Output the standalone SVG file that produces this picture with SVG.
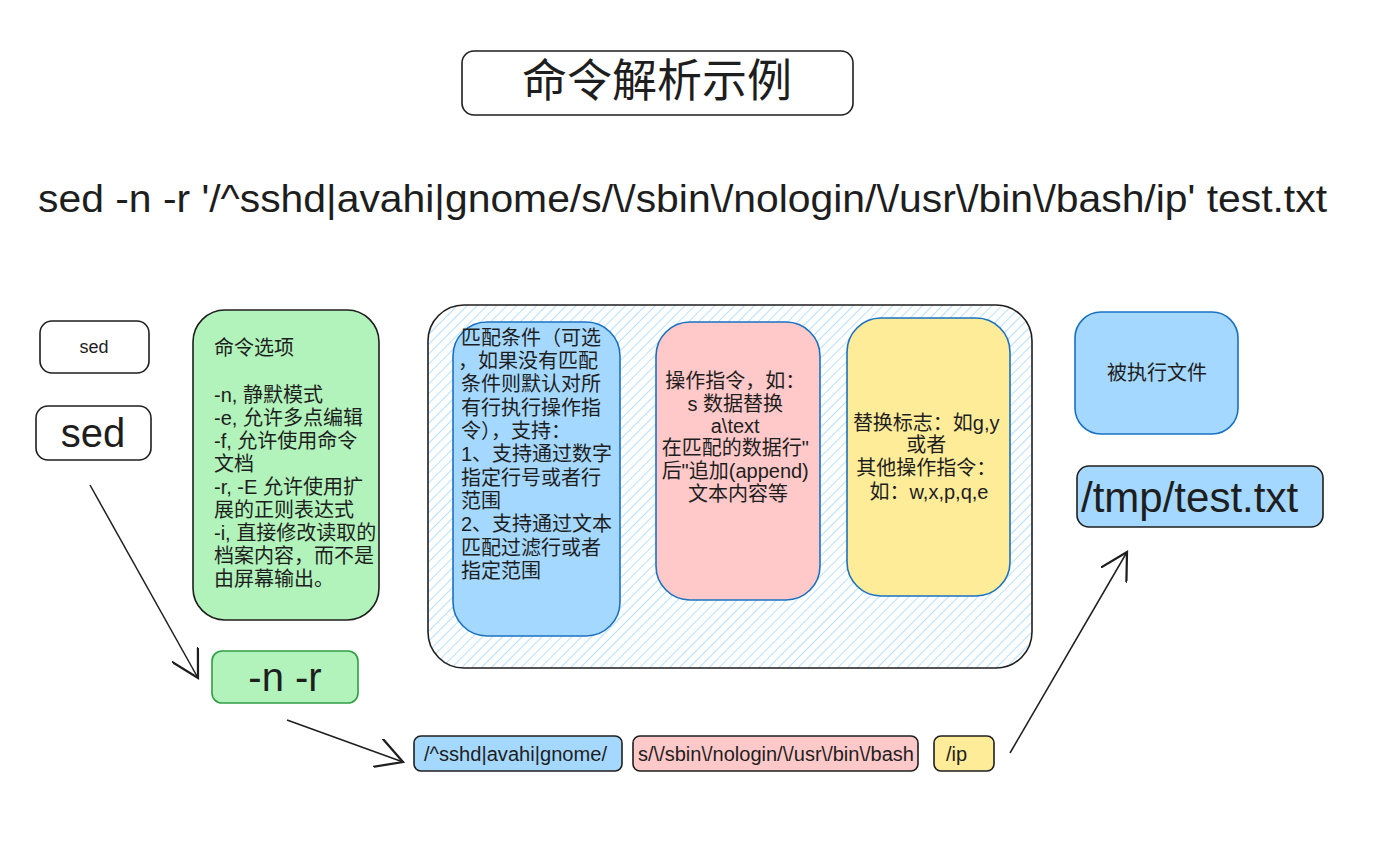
<svg xmlns="http://www.w3.org/2000/svg" width="1381" height="851" viewBox="0 0 1381 851">
<defs>
<pattern id="hatch" width="7" height="7" patternUnits="userSpaceOnUse" patternTransform="rotate(45)">
<line x1="0" y1="0" x2="0" y2="7" stroke="#a5d8ff" stroke-width="1.6"/>
</pattern>
<marker id="ah" viewBox="0 0 20 20" refX="18" refY="10" markerWidth="30" markerHeight="30" markerUnits="userSpaceOnUse" orient="auto">
<path d="M0,0 L18,10 L0,20" fill="none" stroke="#1e1e1e" stroke-width="1.5"/>
</marker>
<style>
text{font-family:"Liberation Sans","Noto Sans CJK SC",sans-serif;fill:#1e1e1e}
.blk{stroke:#1e1e1e;stroke-width:1.6}
.blu{stroke:#1971c2;stroke-width:1.6}
.t18{font-size:20px}
.mid{text-anchor:middle}
.conn{fill:none;stroke:#1e1e1e;stroke-width:1.5}
</style>
</defs>
<rect width="1381" height="851" fill="#ffffff"/>

<g id="title">
<rect x="462" y="51" width="391" height="64" rx="12" fill="#ffffff" class="blk"/>
<text x="657" y="97" class="mid" font-size="45">命令解析示例</text>
</g>

<g id="command">
<text x="38" y="212" font-size="38" textLength="1289" lengthAdjust="spacingAndGlyphs">sed -n -r '/^sshd|avahi|gnome/s/\/sbin\/nologin/\/usr\/bin\/bash/ip' test.txt</text>
</g>

<g id="sed-small">
<rect x="40" y="321" width="109" height="52" rx="12" fill="#ffffff" class="blk"/>
<text x="94" y="353" class="mid" font-size="18">sed</text>
</g>

<g id="sed-large">
<rect x="36" y="406" width="115" height="54" rx="12" fill="#ffffff" class="blk"/>
<text x="93" y="447" class="mid" font-size="40">sed</text>
</g>

<g id="options">
<rect x="193" y="310" width="186" height="310" rx="32" fill="#b2f2bb" class="blk"/>
<text class="t18">
<tspan x="214" y="355">命令选项</tspan>
<tspan x="214" y="402">-n, 静默模式</tspan>
<tspan x="214" y="425">-e, 允许多点编辑</tspan>
<tspan x="214" y="448">-f,  允许使用命令</tspan>
<tspan x="214" y="471">文档</tspan>
<tspan x="214" y="494">-r, -E 允许使用扩</tspan>
<tspan x="214" y="517">展的正则表达式</tspan>
<tspan x="214" y="540">-i, 直接修改读取的</tspan>
<tspan x="214" y="563">档案内容，而不是</tspan>
<tspan x="214" y="586">由屏幕输出。</tspan>
</text>
</g>

<g id="container">
<rect x="428" y="305" width="604" height="363" rx="36" fill="url(#hatch)" class="blk" stroke-width="2"/>
</g>

<g id="match">
<rect x="453" y="322" width="167" height="314" rx="34" fill="#a5d8ff" class="blu"/>
<text class="t18">
<tspan x="461" y="345">匹配条件（可选</tspan>
<tspan x="458" y="368">，如果没有匹配</tspan>
<tspan x="461" y="391">条件则默认对所</tspan>
<tspan x="461" y="415">有行执行操作指</tspan>
<tspan x="461" y="438">令），支持：</tspan>
<tspan x="461" y="461">1、支持通过数字</tspan>
<tspan x="461" y="485">指定行号或者行</tspan>
<tspan x="461" y="508">范围</tspan>
<tspan x="461" y="531">2、支持通过文本</tspan>
<tspan x="461" y="555">匹配过滤行或者</tspan>
<tspan x="461" y="578">指定范围</tspan>
</text>
</g>

<g id="action">
<rect x="656" y="322" width="164" height="278" rx="34" fill="#ffc9c9" class="blu"/>
<text class="t18 mid">
<tspan x="738" y="388">操作指令，如：</tspan>
<tspan x="738" y="411">s 数据替换</tspan>
<tspan x="738" y="433">a\text</tspan>
<tspan x="738" y="455">在匹配的数据行"</tspan>
<tspan x="738" y="478">后"追加(append)</tspan>
<tspan x="738" y="501">文本内容等</tspan>
</text>
</g>

<g id="flags">
<rect x="847" y="318" width="163" height="278" rx="34" fill="#ffec99" class="blu"/>
<text class="t18 mid" font-size="19.5">
<tspan x="929" y="430">替换标志：如g,y</tspan>
<tspan x="929" y="452">或者</tspan>
<tspan x="929" y="475">其他操作指令：</tspan>
<tspan x="929" y="499">如：w,x,p,q,e</tspan>
</text>
</g>

<g id="file-label">
<rect x="1075" y="312" width="163" height="122" rx="26" fill="#a5d8ff" class="blu"/>
<text x="1157" y="380" class="t18 mid">被执行文件</text>
</g>

<g id="file">
<rect x="1077" y="466" width="246" height="61" rx="12" fill="#a5d8ff" class="blk"/>
<text x="1081" y="512" font-size="42">/tmp/test.txt</text>
</g>

<g id="opts">
<rect x="212" y="651" width="146" height="52" rx="10" fill="#b2f2bb" stroke="#2f9e44" stroke-width="1.6"/>
<text x="285" y="691" class="mid" font-size="40">-n -r</text>
</g>

<g id="part-match">
<rect x="414" y="736" width="208" height="35" rx="7" fill="#a5d8ff" class="blk"/>
<text x="424" y="761" font-size="20" textLength="183" lengthAdjust="spacingAndGlyphs">/^sshd|avahi|gnome/</text>
</g>

<g id="part-action">
<rect x="633" y="736" width="285" height="35" rx="7" fill="#ffc9c9" class="blk"/>
<text x="638" y="761" font-size="20" textLength="276" lengthAdjust="spacingAndGlyphs">s/\/sbin\/nologin/\/usr\/bin\/bash</text>
</g>

<g id="part-flag">
<rect x="934" y="736" width="60" height="35" rx="7" fill="#ffec99" class="blk"/>
<text x="946" y="761" font-size="20">/ip</text>
</g>

<g id="connectors">
<path class="conn" d="M90,485 L198,678" marker-end="url(#ah)"/>
<path class="conn" d="M287,720 L403,762" marker-end="url(#ah)"/>
<path class="conn" d="M1010,753 L1127,552" marker-end="url(#ah)"/>
</g>
</svg>
